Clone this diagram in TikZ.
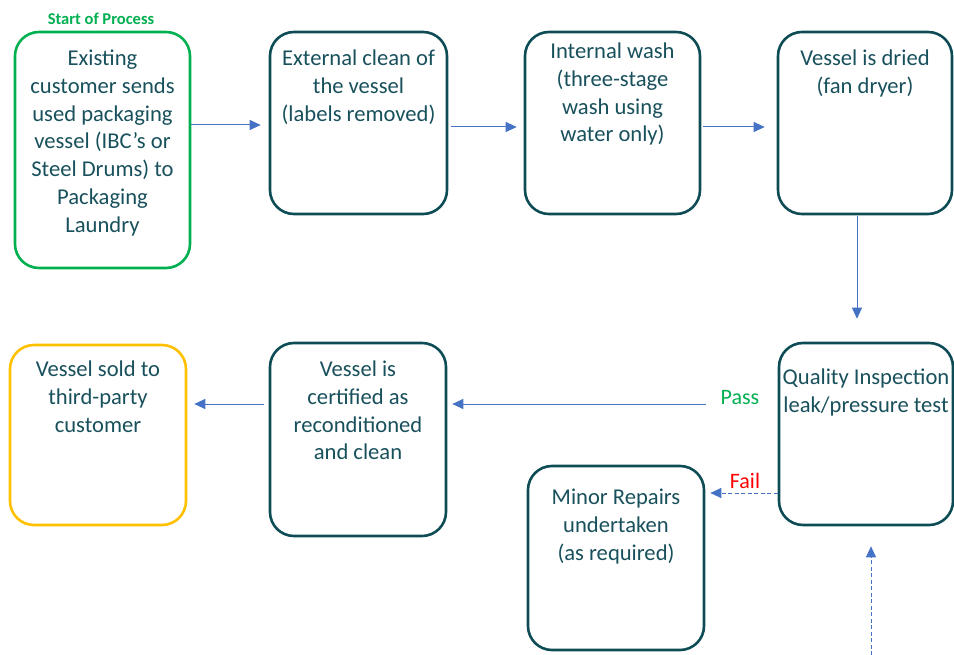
\documentclass[tikz,border=0pt]{standalone}
\usepackage{fontspec}
\setmainfont{Carlito}
\usetikzlibrary{arrows.meta}
\definecolor{tealb}{RGB}{14,76,85}
\definecolor{tealt}{RGB}{24,80,92}
\definecolor{greenb}{RGB}{0,176,80}
\definecolor{yellowb}{RGB}{255,192,0}
\definecolor{bluea}{RGB}{68,114,196}
\definecolor{redl}{RGB}{255,0,0}
\begin{document}
\begin{tikzpicture}[x=1pt,y=1pt,
  box/.style={draw=tealb, line width=2.6pt, rounded corners=24pt, inner sep=0pt},
  txt/.style={text=tealt, font=\fontsize{22.6}{27.7}\selectfont, align=center, inner sep=0pt, anchor=north},
  arr/.style={draw=bluea, line width=1pt, -{Triangle[length=11pt,width=10pt]}},
  darr/.style={arr, dash pattern=on 4pt off 2.5pt},
  lbl/.style={font=\fontsize{22}{26}\selectfont, inner sep=0pt}]
\useasboundingbox (0,0) rectangle (954,-655);
% boxes
\node[box, draw=greenb, minimum width=175pt, minimum height=236pt] (b1) at (102.5,-150) {};
\node[box, minimum width=177pt, minimum height=182pt] (b2) at (358.5,-123) {};
\node[box, minimum width=175pt, minimum height=182pt] (b3) at (612.5,-123) {};
\node[box, minimum width=174pt, minimum height=182pt] (b4) at (865,-123) {};
\node[box, minimum width=174pt, minimum height=182pt] (qi) at (866,-434) {};
\node[box, minimum width=176pt, minimum height=193pt] (cert) at (358,-439.5) {};
\node[box, draw=yellowb, minimum width=176pt, minimum height=180pt] (sold) at (98,-435) {};
\node[box, minimum width=176pt, minimum height=184pt] (rep) at (616,-558) {};
% texts
\node[font=\fontsize{16.5}{18}\selectfont\bfseries, text=greenb, inner sep=0pt] (start) at (101,-19) {Start of Process};
\node[txt] (t1) at (102.5,-50) {Existing\\customer sends\\used packaging\\vessel (IBC’s or\\Steel Drums) to\\Packaging\\Laundry};
\node[txt] (t2) at (358.5,-50) {External clean of\\the vessel\\(labels removed)};
\node[txt] (t3) at (612.5,-43) {Internal wash\\(three-stage\\wash using\\water only)};
\node[txt] (t4) at (865,-50) {Vessel is dried\\(fan dryer)};
\node[txt] (t5) at (866,-369) {Quality Inspection\\leak/pressure test};
\node[txt] (t6) at (358,-361) {Vessel is\\certified as\\reconditioned\\and clean};
\node[txt] (t7) at (98,-361) {Vessel sold to\\third-party\\customer};
\node[txt] (t8) at (616,-489) {Minor Repairs\\undertaken\\(as required)};
% connectors
\draw[arr] ([yshift=25pt]b1.east) -- ([xshift=-8pt,yshift=-2pt]b2.west);
\draw[arr] ([xshift=3pt,yshift=-4pt]b2.east) -- ([xshift=-7pt,yshift=-4pt]b3.west);
\draw[arr] ([xshift=2pt,yshift=-4pt]b3.east) -- ([xshift=-12pt,yshift=-4pt]b4.west);
\draw[arr] ([xshift=-8pt,yshift=-1pt]b4.south) -- ([xshift=-9pt,yshift=23pt]qi.north);
\draw[arr] ([xshift=-72pt,yshift=30pt]qi.west) -- ([xshift=5pt,yshift=35.5pt]cert.east);
\node[lbl, text=greenb] (pass) at (740,-398) {Pass};
\draw[arr] ([xshift=-5pt,yshift=35.5pt]cert.west) -- ([xshift=7pt,yshift=31pt]sold.east);
\draw[darr] ([yshift=-59pt]qi.west) -- ([xshift=5pt,yshift=65pt]rep.east);
\node[lbl, text=redl] (fail) at (745,-481) {Fail};
\coordinate (src) at (871,-655);
\draw[darr] (src) -- ([xshift=5pt,yshift=-20pt]qi.south);
\end{tikzpicture}
\end{document}
